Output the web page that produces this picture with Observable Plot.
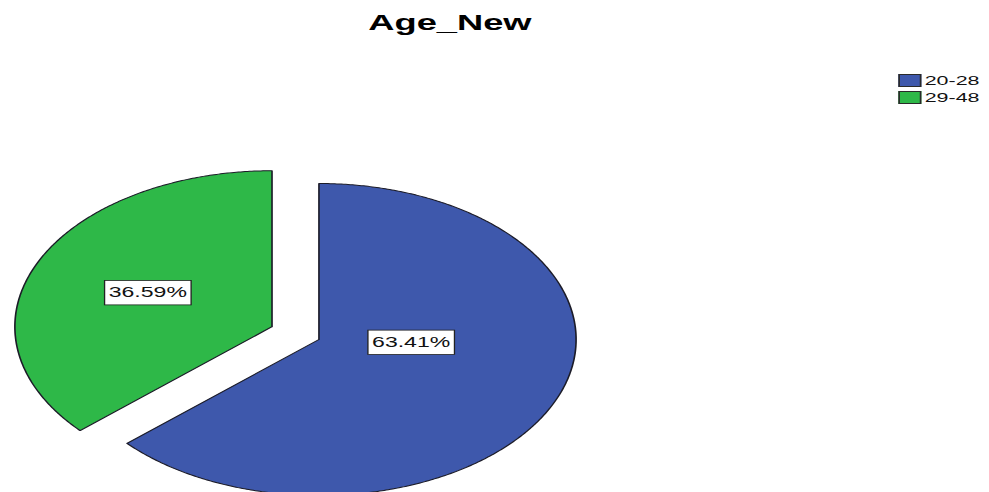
<!DOCTYPE html>
<html><head><meta charset="utf-8">
<script src="https://cdn.jsdelivr.net/npm/d3@7"></script>
<script src="https://cdn.jsdelivr.net/npm/@observablehq/plot@0.6"></script>
<style>
html,body{margin:0;padding:0;background:#fff;overflow:hidden;}
#wrap{position:relative;width:600px;height:492px;transform:scaleX(1.6483);transform-origin:0 0;font-family:"Liberation Sans",Arial,sans-serif;}
#title{position:absolute;left:0;top:12px;width:546px;text-align:center;font-weight:bold;font-size:22px;line-height:22px;color:#000;}
#legend{position:absolute;left:545px;top:72px;font-size:13px;color:#111;}
.item{display:flex;align-items:center;height:17px;}
.sw{width:14px;height:13px;border:1px solid #2a2a2a;box-sizing:border-box;margin-right:2px;}
#chart{position:absolute;left:0;top:45px;}
</style></head>
<body><div id="wrap"><div id="title"></div><div id="chart"></div><div id="legend"></div></div>
<script>
const chartTitle = "Age_New";
const categories = ["20-28", "29-48"];
const percents = [63.41, 36.59];
const colors = ["#3E58AC", "#2EB848"];

// layout / style settings
const explode = {"29-48": 0.2};
const labelNudge = {"20-28": [0.08, 0.105], "29-48": [0, 0]};

document.getElementById("title").textContent = chartTitle;

const data = categories.map((c, i) => ({category: c, value: percents[i]}));
const arcs = d3.pie().sort(null).value(d => d.value).startAngle(0).endAngle(2 * Math.PI)(data);

const pts = [];
const labels = [];
arcs.forEach(a => {
  const c = a.data.category;
  const mid = (a.startAngle + a.endAngle) / 2;
  const off = explode[c] || 0;
  const cx = off * Math.sin(mid), cy = off * Math.cos(mid);
  pts.push({slice: c, x: cx, y: cy});
  const n = Math.ceil((a.endAngle - a.startAngle) / (Math.PI / 360));
  for (let i = 0; i <= n; i++) {
    const t = a.startAngle + (a.endAngle - a.startAngle) * i / n;
    pts.push({slice: c, x: cx + Math.sin(t), y: cy + Math.cos(t)});
  }
  pts.push({slice: c, x: cx, y: cy});
  const alpha = a.endAngle - a.startAngle;
  const rc = 4 * Math.sin(alpha / 2) / (3 * alpha);
  const nd = labelNudge[c] || [0, 0];
  labels.push({
    slice: c,
    x: cx + rc * Math.sin(mid) + nd[0],
    y: cy + rc * Math.cos(mid) + nd[1],
    text: a.data.value.toFixed(2) + "%"
  });
});

const svg = Plot.plot({
  width: 600,
  height: 447,
  margin: 0,
  x: {domain: [-1, 1], range: [37, 349], axis: null},
  y: {domain: [-1, 1], range: [450, 138], axis: null},
  color: {domain: categories, range: colors},
  style: {fontFamily: "'Liberation Sans', Arial, sans-serif", background: "#fff", overflow: "hidden"},
  marks: [
    Plot.line(pts, {x: "x", y: "y", z: "slice", fill: "slice", stroke: "#1c1c28", strokeWidth: 1, curve: "linear"}),
    Plot.text(labels, {x: "x", y: "y", text: "text", fontSize: 14, fill: "#111"})
  ]
});
document.getElementById("chart").append(svg);

svg.querySelectorAll("text").forEach(t => {
  if (!/%$/.test(t.textContent)) return;
  const b = t.getBBox();
  const r = document.createElementNS("http://www.w3.org/2000/svg", "rect");
  r.setAttribute("x", b.x - 2.5);
  r.setAttribute("y", b.y - 4.5);
  r.setAttribute("width", b.width + 5);
  r.setAttribute("height", b.height + 9);
  r.setAttribute("fill", "#fff");
  r.setAttribute("stroke", "#222");
  r.setAttribute("stroke-width", "0.8");
  if (t.getAttribute("transform")) r.setAttribute("transform", t.getAttribute("transform"));
  t.parentNode.insertBefore(r, t);
});

const legend = d3.select("#legend");
categories.forEach((c, i) => {
  const it = legend.append("div").attr("class", "item");
  it.append("div").attr("class", "sw").style("background", colors[i]);
  it.append("span").text(c);
});
</script>
</body></html>
